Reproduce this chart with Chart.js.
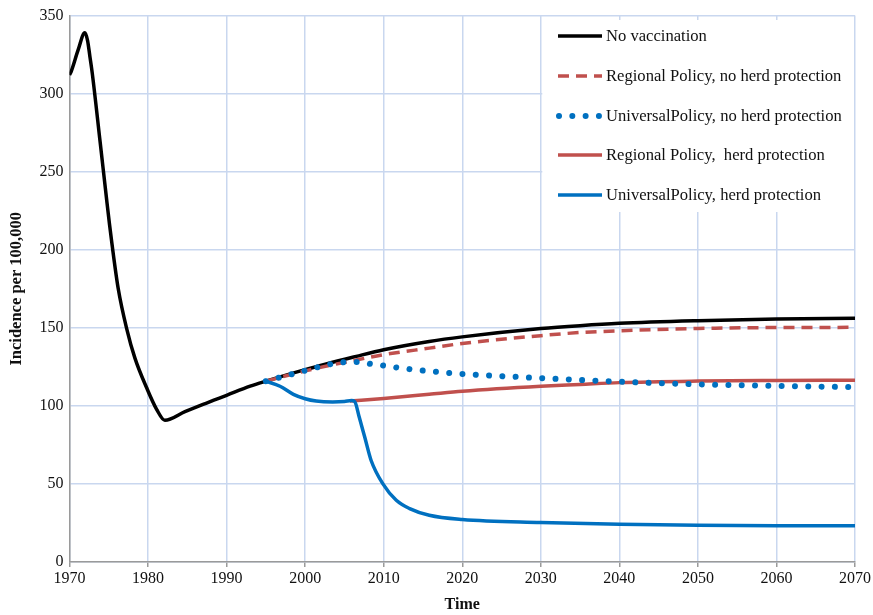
<!DOCTYPE html>
<html>
<head>
<meta charset="utf-8">
<script src="https://cdn.jsdelivr.net/npm/chart.js@4.4.1/dist/chart.umd.min.js"></script>
<style>
  html, body { margin: 0; padding: 0; background: #fff; }
  #wrap { width: 873px; height: 615px; }
</style>
</head>
<body>
<div id="wrap"><canvas id="incidenceChart" width="873" height="615"></canvas></div>
<script>
// Tick values
const xTickValues = [1970, 1980, 1990, 2000, 2010, 2020, 2030, 2040, 2050, 2060, 2070];
const yTickValues = [0, 50, 100, 150, 200, 250, 300, 350];

// No vaccination
const noVacYears = [1970, 1970.2, 1971.1, 1971.95, 1972.3, 1972.6, 1972.9, 1973.9, 1974.73, 1975.1, 1975.4, 1976.2, 1977.27, 1978.33, 1979.82, 1981.09, 1982.14, 1984.7, 1987, 1990, 1993, 1995, 2000, 2006.5, 2010, 2015.8, 2020, 2030, 2035, 2040, 2050, 2060, 2070];
const noVacValues = [312, 314, 328, 339, 334, 323.7, 313, 269, 232, 216, 204, 175.2, 149.7, 130.6, 111.6, 97.8, 90.8, 96.3, 101, 106.8, 112.6, 115.8, 123.2, 131.7, 136, 141.3, 144.2, 149.5, 151.4, 152.9, 154.6, 155.7, 156.1];

// Regional Policy, no herd protection
const regNoHerdYears = [1995, 2000, 2006.5, 2010, 2015.8, 2020, 2030, 2035, 2040, 2050, 2060, 2070];
const regNoHerdValues = [115.8, 122.4, 129.4, 132.8, 137, 140, 145, 147, 148.1, 149.6, 150.2, 150.3];

// UniversalPolicy, no herd protection
const uniNoHerdYears = [1995, 2000, 2003, 2005, 2006.5, 2008.2, 2010, 2011.5, 2013.2, 2015, 2020, 2030, 2040, 2050, 2060, 2070];
const uniNoHerdValues = [115.8, 122.6, 126.5, 128, 128.1, 127, 125.8, 124.7, 123.6, 122.6, 120.5, 117.8, 115.5, 113.8, 112.8, 112];

// Regional Policy, herd protection
const regHerdYears = [2005.7, 2010, 2015.8, 2020, 2030, 2035, 2040, 2050, 2060, 2070];
const regHerdValues = [103.1, 104.8, 107.4, 109.3, 112.5, 113.7, 114.9, 115.9, 116.3, 116.5];

// UniversalPolicy, herd protection
const uniHerdYears = [1995, 1996.8, 1998.5, 2000, 2001.4, 2003.5, 2005, 2005.9, 2006.3, 2006.9, 2007.6, 2008.4, 2009.9, 2011.6, 2013.3, 2015.8, 2020, 2030, 2040, 2050, 2060, 2070];
const uniHerdValues = [115.8, 112.6, 107.4, 104.6, 103.1, 102.5, 102.8, 103.4, 102.8, 92.5, 79.7, 65, 50, 39.5, 34.2, 29.9, 27.2, 25.3, 24.2, 23.6, 23.3, 23.2];

const seriesLabels = [
    'No vaccination',
    'Regional Policy, no herd protection',
    'UniversalPolicy, no herd protection',
    'Regional Policy,  herd protection',
    'UniversalPolicy, herd protection'
];

const BLACK = '#000000';
const RED = '#c0504d';
const BLUE = '#0070c0';
const GRID = '#c9d7ef';
const FONT = '"Liberation Serif", "Times New Roman", serif';

function toPoints(xs, ys) {
    return xs.map((x, i) => ({ x: x, y: ys[i] }));
}

function lineSet(label, xs, ys, color, extra) {
    return Object.assign({
        label: label,
        data: toPoints(xs, ys),
        borderColor: color,
        backgroundColor: color,
        borderWidth: 3.5,
        pointRadius: 0,
        fill: false,
        cubicInterpolationMode: 'monotone',
        borderCapStyle: 'butt'
    }, extra || {});
}

// Legend drawn inside the plot area, top right
const insideLegend = {
    id: 'insideLegend',
    afterDraw(chart) {
        const ctx = chart.ctx;
        const area = chart.chartArea;
        const xs = chart.scales.x;
        const boxLeft = xs.getPixelForValue(2030) + 1.5;
        const boxTop = 20;
        const boxBottom = 212;
        ctx.save();
        ctx.fillStyle = '#ffffff';
        ctx.fillRect(boxLeft, boxTop, area.right - boxLeft - 1, boxBottom - boxTop);

        const rows = [36, 76, 116, 155, 195];
        const styles = [
            { color: BLACK, dash: [], width: 3.5, cap: 'butt' },
            { color: RED, dash: [11, 7], width: 3.5, cap: 'butt' },
            { color: BLUE, dash: [0.01, 13.3], width: 6, cap: 'round' },
            { color: RED, dash: [], width: 3.5, cap: 'butt' },
            { color: BLUE, dash: [], width: 3.5, cap: 'butt' }
        ];
        ctx.font = '16.6px ' + FONT;
        ctx.textBaseline = 'middle';
        ctx.textAlign = 'left';
        rows.forEach((y, i) => {
            const s = styles[i];
            ctx.beginPath();
            ctx.strokeStyle = s.color;
            ctx.lineWidth = s.width;
            ctx.lineCap = s.cap;
            ctx.setLineDash(s.dash);
            if (i === 2) {
                ctx.moveTo(559, y);
                ctx.lineTo(601, y);
            } else {
                ctx.moveTo(558, y);
                ctx.lineTo(602, y);
            }
            ctx.stroke();
            ctx.setLineDash([]);
            ctx.fillStyle = '#111';
            ctx.fillText(seriesLabels[i], 606, y + 1);
        });
        ctx.restore();
    }
};

const ctx = document.getElementById('incidenceChart');
new Chart(ctx, {
    type: 'line',
    data: {
        datasets: [
            lineSet(seriesLabels[0], noVacYears, noVacValues, BLACK, { order: 5 }),
            lineSet(seriesLabels[1], regNoHerdYears, regNoHerdValues, RED, { order: 4, borderDash: [11, 7] }),
            lineSet(seriesLabels[2], uniNoHerdYears, uniNoHerdValues, BLUE, { order: 2, borderDash: [0.01, 13.3], borderWidth: 6, borderCapStyle: 'round' }),
            lineSet(seriesLabels[3], regHerdYears, regHerdValues, RED, { order: 3 }),
            lineSet(seriesLabels[4], uniHerdYears, uniHerdValues, BLUE, { order: 1 })
        ]
    },
    options: {
        responsive: false,
        animation: false,
        layout: { padding: { left: 0, right: 17, top: 12, bottom: 0 } },
        plugins: {
            legend: { display: false },
            tooltip: { enabled: false }
        },
        scales: {
            x: {
                type: 'linear',
                min: 1970,
                max: 2070,
                afterBuildTicks: s => { s.ticks = xTickValues.map(v => ({ value: v })); },
                afterFit: s => { s.height = 53; },
                grid: { color: GRID, lineWidth: 1.5, tickLength: 5, tickColor: '#9a9a9a' },
                border: { color: '#9a9a9a', width: 1.5 },
                ticks: {
                    color: '#111',
                    font: { family: FONT, size: 16 },
                    padding: 2,
                    maxRotation: 0,
                    callback: v => String(v)
                },
                title: {
                    display: true,
                    text: 'Time',
                    color: '#111',
                    font: { family: FONT, size: 16, weight: 'bold' },
                    padding: { top: 0, bottom: 1 }
                }
            },
            y: {
                min: 0,
                max: 350,
                afterBuildTicks: s => { s.ticks = yTickValues.map(v => ({ value: v })); },
                afterFit: s => { s.width = 69.5; },
                grid: { color: GRID, lineWidth: 1.5, drawTicks: false },
                border: { color: '#9a9a9a', width: 1.5 },
                ticks: {
                    color: '#111',
                    font: { family: FONT, size: 16 },
                    padding: 6,
                    callback: v => String(v)
                },
                title: {
                    display: true,
                    text: 'Incidence per 100,000',
                    color: '#111',
                    font: { family: FONT, size: 16.5, weight: 'bold' },
                    padding: { top: 7, bottom: 0 }
                }
            }
        }
    },
    plugins: [insideLegend]
});
</script>
</body>
</html>
